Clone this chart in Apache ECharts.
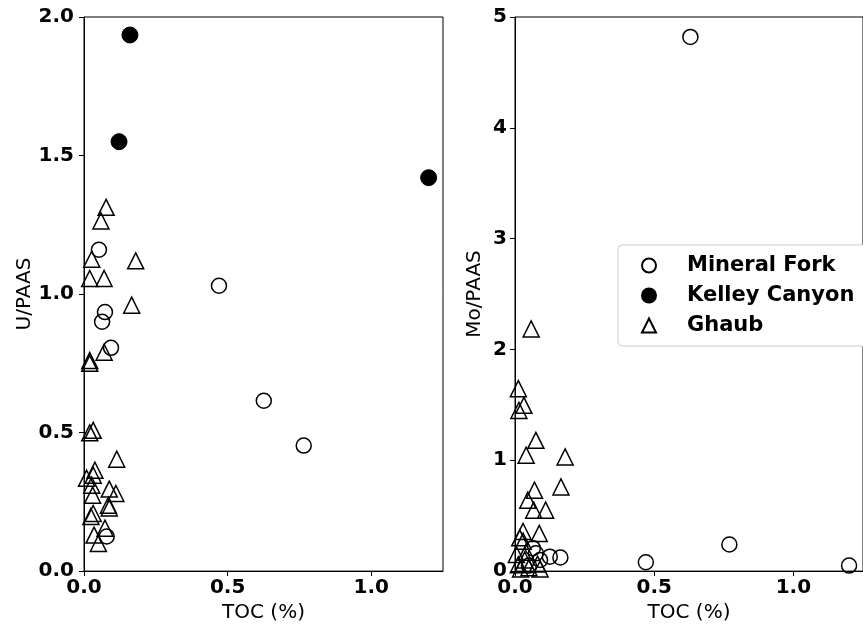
<!DOCTYPE html>
<html><head><meta charset="utf-8">
<script src="https://cdn.jsdelivr.net/npm/echarts@6/dist/echarts.min.js"></script>
<style>html,body{margin:0;padding:0;background:#fff}#c{width:863px;height:628px}</style>
</head><body><div id="c"></div>
<script>
// U/PAAS panel
const uMineralFork = [[0.47,1.03],[0.626,0.615],[0.765,0.453],[0.052,1.16],[0.073,0.935],[0.063,0.90],[0.094,0.806],[0.079,0.125]];
const uKelleyCanyon = [[0.16,1.935],[0.122,1.55],[1.2,1.42]];
const uGhaub = [[0.077,1.313],[0.059,1.264],[0.027,1.126],[0.18,1.12],[0.02,1.056],[0.07,1.056],[0.166,0.96],[0.02,0.76],[0.02,0.75],[0.07,0.79],[0.032,0.508],[0.02,0.499],[0.114,0.404],[0.038,0.364],[0.032,0.346],[0.009,0.335],[0.027,0.31],[0.088,0.296],[0.111,0.28],[0.03,0.274],[0.085,0.238],[0.088,0.228],[0.032,0.208],[0.024,0.197],[0.073,0.155],[0.035,0.13],[0.05,0.10]];
// Mo/PAAS panel
const moMineralFork = [[0.63,4.82],[0.77,0.24],[0.47,0.08],[1.2,0.05],[0.125,0.13],[0.163,0.123],[0.064,0.207],[0.075,0.16],[0.09,0.1],[0.05,0.05]];
const moKelleyCanyon = [];
const moGhaub = [[0.058,2.185],[0.012,1.646],[0.032,1.496],[0.014,1.45],[0.075,1.18],[0.04,1.046],[0.18,1.03],[0.165,0.76],[0.07,0.73],[0.046,0.64],[0.067,0.55],[0.11,0.55],[0.087,0.34],[0.029,0.357],[0.017,0.3],[0.029,0.27],[0.035,0.1],[0.012,0.057],[0.081,0.063],[0.02,0.02],[0.05,0.03],[0.09,0.02],[0.005,0.15],[0.04,0.17]];
const xTicks = [0, 0.5, 1.0];
const seriesNames = ['Mineral Fork','Kelley Canyon','Ghaub'];
const seriesSymbols = ['circle','circle','triangle'];

const FONT = 'DejaVu Sans';
const chart = echarts.init(document.getElementById('c'), null, {renderer:'canvas'});
function xAx(gi){return {gridIndex:gi,type:'value',min:0,max:1.25,interval:0.5,
  axisLine:{show:true,onZero:false,lineStyle:{color:'#000',width:1}},
  axisTick:{show:true,length:5,lineStyle:{color:'#000'}},splitLine:{show:false},
  axisLabel:{fontFamily:FONT,fontWeight:'bold',fontSize:20,color:'#000',margin:7,
    showMaxLabel:false,formatter:v=>v.toFixed(1)},
  name:'TOC (%)',nameLocation:'middle',nameGap:31,nameTextStyle:{fontFamily:FONT,fontSize:20,color:'#000'}};}
const hollow = {color:'rgba(255,255,255,0)',borderColor:'#000',borderWidth:1.5,opacity:1};
const filled = {color:'#000',borderColor:'#000',borderWidth:1,opacity:1};
function ser(name,data,gi,sym,size,st){return {name,type:'scatter',xAxisIndex:gi,yAxisIndex:gi,data,symbol:sym,symbolSize:size,itemStyle:st,emphasis:{disabled:true},clip:false};}
chart.setOption({
  animation:false,
  grid:[
    {left:84,top:17,width:359,height:556,show:true,borderColor:'#000',borderWidth:1},
    {left:515,top:17,width:359,height:556,show:true,borderColor:'#000',borderWidth:1}
  ],
  xAxis:[xAx(0),xAx(1)],
  yAxis:[
    {gridIndex:0,type:'value',min:0,max:2,interval:0.5,
     axisLine:{show:true,lineStyle:{color:'#000'}},axisTick:{show:true,length:5,lineStyle:{color:'#000'}},splitLine:{show:false},
     axisLabel:{fontFamily:FONT,fontWeight:'bold',fontSize:20,color:'#000',margin:10,formatter:v=>v.toFixed(1)},
     name:'U/PAAS',nameLocation:'middle',nameGap:49,nameTextStyle:{fontFamily:FONT,fontSize:20,color:'#000'}},
    {gridIndex:1,type:'value',min:0,max:5,interval:1,
     axisLine:{show:true,lineStyle:{color:'#000'}},axisTick:{show:true,length:5,lineStyle:{color:'#000'}},splitLine:{show:false},
     axisLabel:{fontFamily:FONT,fontWeight:'bold',fontSize:20,color:'#000',margin:8},
     name:'Mo/PAAS',nameLocation:'middle',nameGap:30,nameTextStyle:{fontFamily:FONT,fontSize:20,color:'#000'}}
  ],
  legend:{data:seriesNames.map((n,i)=>({name:n,icon:seriesSymbols[i]})),orient:'vertical',left:618,top:245,
    padding:[10,30,10,23],itemGap:9,
    itemWidth:14,itemHeight:14,backgroundColor:'#fff',borderColor:'#ccc',borderWidth:1,borderRadius:4,
    textStyle:{fontFamily:FONT,fontWeight:'bold',fontSize:21,color:'#000',padding:[0,0,0,26]}},
  series:[
    ser(seriesNames[0],uMineralFork,0,'circle',15,hollow),
    ser(seriesNames[1],uKelleyCanyon,0,'circle',16,filled),
    ser(seriesNames[2],uGhaub,0,'triangle',16,hollow),
    ser(seriesNames[0],moMineralFork,1,'circle',15,hollow),
    ser(seriesNames[1],moKelleyCanyon,1,'circle',16,filled),
    ser(seriesNames[2],moGhaub,1,'triangle',16,hollow)
  ]
});
</script></body></html>
